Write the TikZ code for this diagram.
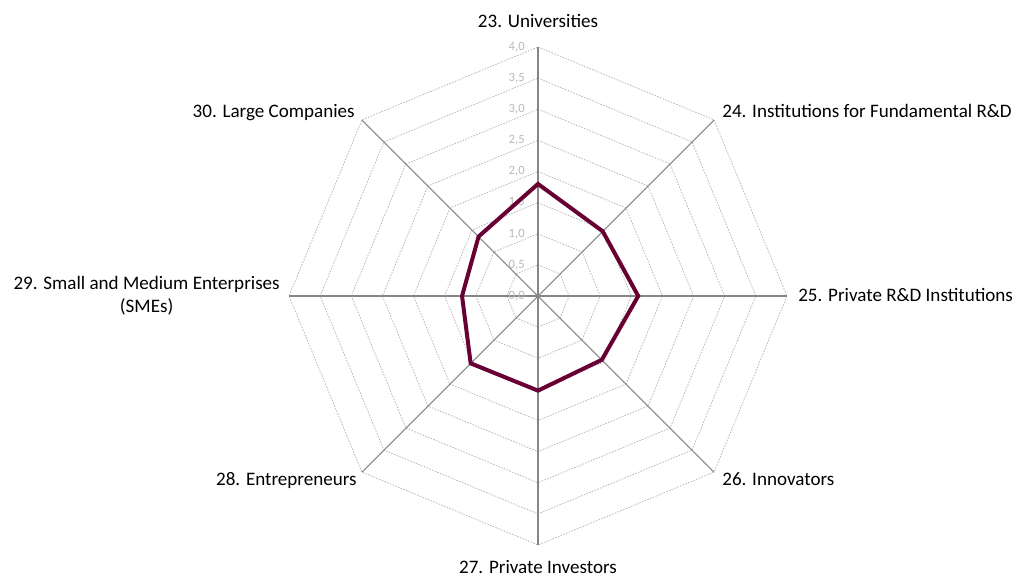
\documentclass[tikz,border=0pt]{standalone}
\usepackage{fontspec}
\setmainfont{Carlito}
\usetikzlibrary{positioning}
\usepackage{xcolor}
\definecolor{seriesred}{RGB}{104,0,52}
\definecolor{gridgray}{RGB}{185,185,185}
\definecolor{axisgray}{RGB}{134,134,134}
\def\radunit{62.25}

\begin{document}
\begin{tikzpicture}[x=0.75pt,y=0.75pt]
    \tikzstyle{axis line}=[draw=axisgray, line width=0.8pt]
    \tikzstyle{grid ring}=[draw=gridgray, line width=0.6pt, dash pattern=on 1.2pt off 1pt]
    \tikzstyle{tick label}=[font=\fontsize{9.5}{10}\selectfont, text=gridgray, anchor=east, inner sep=0pt]
    \tikzstyle{spoke label}=[font=\fontsize{14.3}{17.3}\selectfont, inner sep=0pt, align=center]
    \tikzstyle{series}=[draw=seriesred, line width=3pt, line join=miter]

    \useasboundingbox (-538,-280) rectangle (479,296);

    \coordinate (C) at (0,0);

    % rings every 0.5
    \foreach \r in {0.5,1,...,4}
        \draw[grid ring] (90:{\r*\radunit}) \foreach \a in {45,0,...,-225} { -- (\a:{\r*\radunit}) } -- cycle;

    % spokes
    \foreach \a/\n in {90/23,45/24,0/25,-45/26,-90/27,-135/28,180/29,135/30} {
        \coordinate (E\n) at (\a:{4*\radunit});
        \draw[axis line] (C) -- (E\n);
    }

    \foreach \v [count=\i] in {0,0.5,...,4}
        \node[tick label] (T\i) at (-13,{\v*\radunit}) {\pgfmathprintnumber[fixed,fixed zerofill,precision=1,use comma,assume math mode=true]{\v}};

    \node[spoke label, anchor=base] (L23) at ([shift={(0,20)}]E23) {23. Universities};
    \node[spoke label, anchor=base west] (L24) at ([shift={(8,2)}]E24) {24. Institutions for Fundamental R\&D};
    \node[spoke label, anchor=base west] (L25) at ([shift={(11,-5)}]E25) {25. Private R\&D Institutions};
    \node[spoke label, anchor=base west] (L26) at ([shift={(8,-13)}]E26) {26. Innovators};
    \node[spoke label, anchor=base] (L27) at ([shift={(0,-28)}]E27) {27. Private Investors};
    \node[spoke label, anchor=base east] (L28) at ([shift={(-5,-13)}]E28) {28. Entrepreneurs};
    \node[spoke label, anchor=east] (L29) at ([shift={(-9,0)}]E29) {29. Small and Medium Enterprises\\(SMEs)};
    \node[spoke label, anchor=base east] (L30) at ([shift={(-7,2)}]E30) {30. Large Companies};

    % data
    \foreach \a/\val [count=\i] in {90/1.8,45/1.47,0/1.61,-45/1.45,-90/1.52,-135/1.53,180/1.22,135/1.35}
        \coordinate (P\i) at (\a:{\val*\radunit});
    \draw[series] (P1) -- (P2) -- (P3) -- (P4) -- (P5) -- (P6) -- (P7) -- (P8) -- cycle;
\end{tikzpicture}
\end{document}
